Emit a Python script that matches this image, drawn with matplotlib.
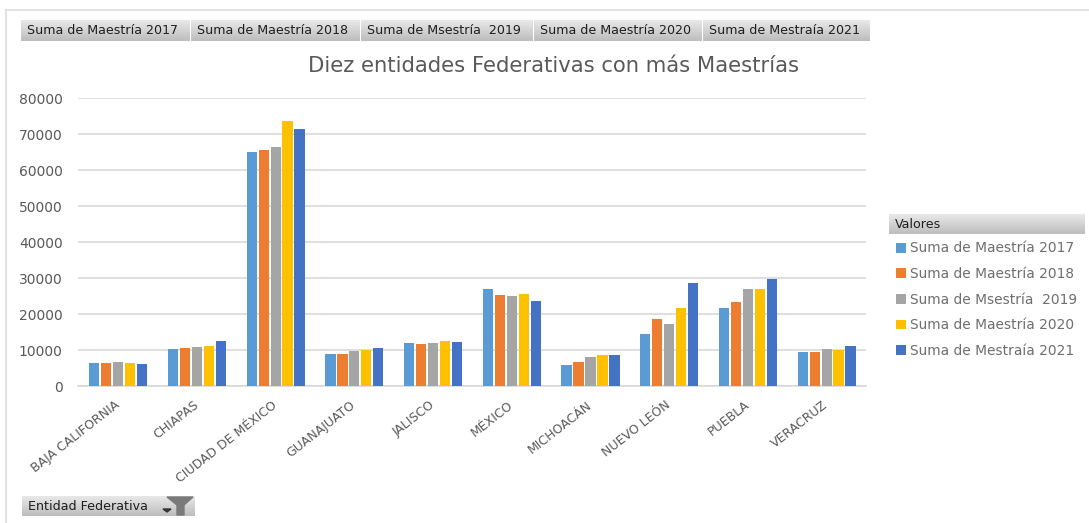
import numpy as np
import matplotlib.pyplot as plt
from matplotlib.patches import Polygon
from matplotlib.transforms import ScaledTranslation

entidades = ['BAJA CALIFORNIA', 'CHIAPAS', 'CIUDAD DE MÉXICO', 'GUANAJUATO', 'JALISCO',
             'MÉXICO', 'MICHOACÁN', 'NUEVO LEÓN', 'PUEBLA', 'VERACRUZ']
m2017 = [6470, 10180, 65000, 8980, 11850, 27040, 5740, 14440, 21570, 9540]
m2018 = [6300, 10550, 65500, 8800, 11670, 25280, 6670, 18520, 23240, 9540]
m2019 = [6670, 10830, 66500, 9820, 11940, 25000, 7960, 17300, 27040, 10180]
m2020 = [6450, 11200, 73600, 10000, 12400, 25460, 8520, 21570, 26850, 10000]
m2021 = [6100, 12400, 71300, 10550, 12220, 23600, 8520, 28500, 29700, 11000]

series = [m2017, m2018, m2019, m2020, m2021]
nombres = ['Suma de Maestría 2017', 'Suma de Maestría 2018', 'Suma de Msestría  2019',
           'Suma de Maestría 2020', 'Suma de Mestraía 2021']
colores = ['#5B9BD5', '#ED7D31', '#A5A5A5', '#FFC000', '#4472C4']
yticks = [0, 10000, 20000, 30000, 40000, 50000, 60000, 70000, 80000]

W, H = 1089, 523
plt.rcParams['font.family'] = 'DejaVu Sans'
fig = plt.figure(figsize=(W / 100, H / 100), dpi=100)

# fondo en pixeles para las pestañas y el marco
bg = fig.add_axes([0, 0, 1, 1])
bg.set_xlim(0, W)
bg.set_ylim(H, 0)
bg.axis('off')
grad = np.linspace(0.91, 0.74, 32).reshape(-1, 1)


def boton(x0, x1, y0, y1, texto, size=9.1):
    bg.imshow(grad, extent=(x0, x1, y1, y0), cmap='gray', vmin=0, vmax=1, aspect='auto', zorder=2)
    bg.text(x0 + 6, (y0 + y1) / 2 + 0.5, texto, fontsize=size, color='#1f1f1f', va='center', zorder=3)


bg.plot([6, 6], [H, 10], color='#e2e2e2', lw=1.5)
bg.plot([6, W], [10, 10], color='#e2e2e2', lw=1.5)
bordes = [21, 191, 361, 534, 703, 871]
for i in range(5):
    boton(bordes[i], bordes[i + 1] - 1, 20, 41, nombres[i])
boton(889, 1085, 214, 234, 'Valores')
boton(22, 195, 496, 516, 'Entidad Federativa')
bg.add_patch(Polygon([(167, 497), (193, 497), (184, 505), (184, 515), (177, 515), (177, 505)],
                     color='#7a7a7a', zorder=4))
bg.add_patch(Polygon([(163, 509), (171, 509), (167, 512)], color='#333333', zorder=4))
bg.set_xlim(0, W)
bg.set_ylim(H, 0)

ax = fig.add_axes([78 / W, (H - 386) / H, 788 / W, 288 / H])
ax.patch.set_alpha(0)
x = np.arange(len(entidades))
paso = 0.152
for i, vals in enumerate(series):
    ax.bar(x + (i - 2) * paso, vals, width=0.13, color=colores[i], label=nombres[i], zorder=3)

ax.set_xlim(-0.511, 9.5)
ax.set_ylim(0, 80000)
ax.set_yticks(yticks)
ax.set_xticks(x)
ax.set_xticklabels(entidades, rotation=38, ha='right', rotation_mode='anchor',
                   fontsize=9.0, color='#595959')
ax.tick_params(axis='both', length=0)
ax.tick_params(axis='y', labelsize=10, labelcolor='#595959', pad=11)
ax.tick_params(axis='x', pad=9)
# el tick_params de arriba reinicia el transform, por eso va despues
mover = ScaledTranslation(-3 / 72, 0, fig.dpi_scale_trans)
for lab in ax.get_xticklabels():
    lab.set_transform(lab.get_transform() + mover)
ax.grid(axis='y', color='#d9d9d9', lw=1.2, zorder=0)
for s in ['top', 'right', 'left']:
    ax.spines[s].set_visible(False)
ax.spines['bottom'].set_color('#d9d9d9')
ax.spines['bottom'].set_linewidth(1.2)

fig.text(553.5 / W, 1 - 66.5 / H, 'Diez entidades Federativas con más Maestrías', fontsize=15.25,
         color='#595959', ha='center', va='center')

ax.legend(loc='upper left', bbox_to_anchor=(890 / W, 1 - 236 / H), bbox_transform=fig.transFigure,
          frameon=False, fontsize=9.9, labelcolor='#6e6e6e', handlelength=0.75, handleheight=0.7,
          handletextpad=0.33, labelspacing=0.84, borderpad=0.4, borderaxespad=0)

fig.savefig('out.png', dpi=100)
